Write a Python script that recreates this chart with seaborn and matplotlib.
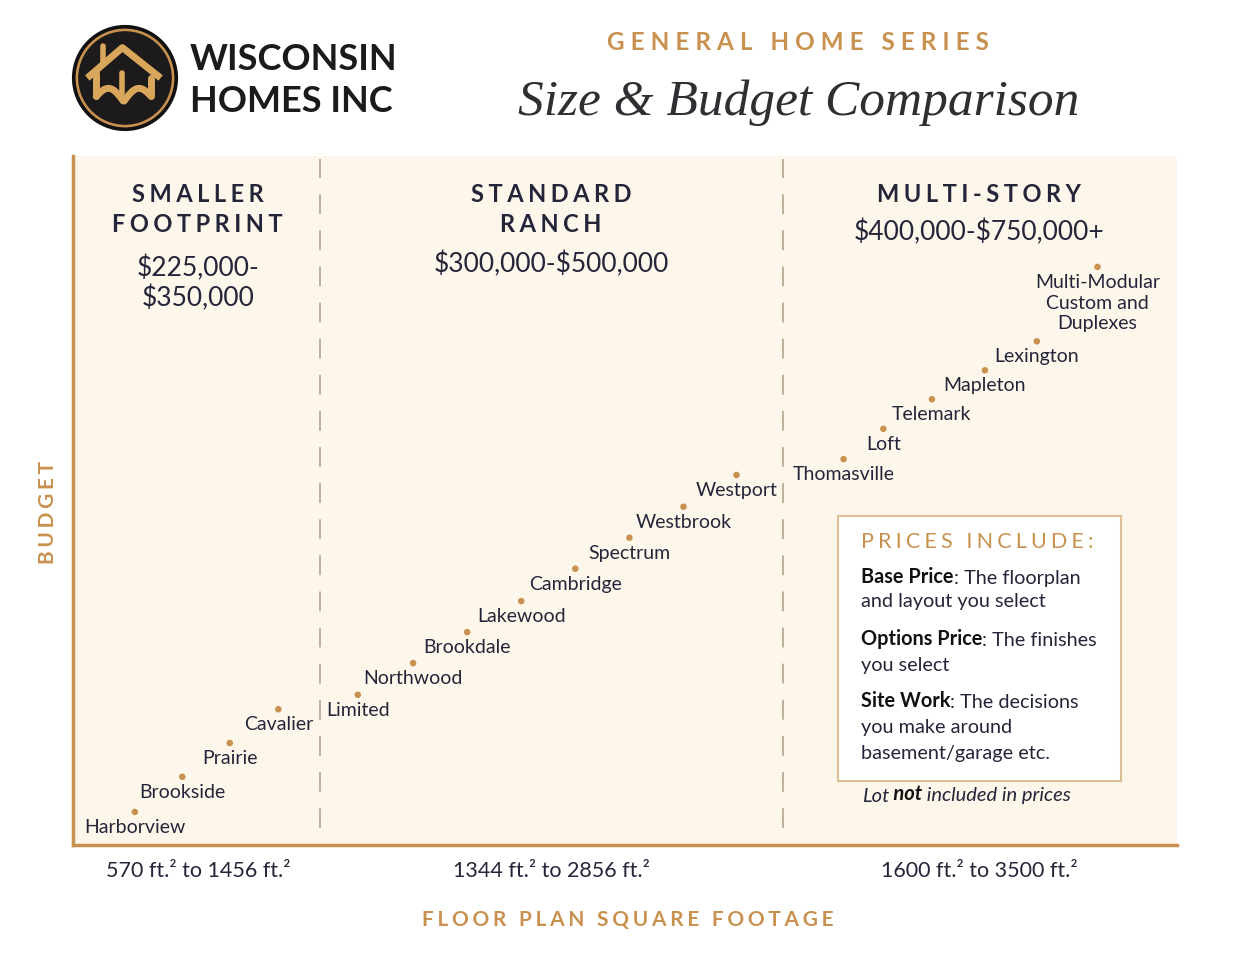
import numpy as np
import pandas as pd
import matplotlib
matplotlib.use("Agg")
import matplotlib.pyplot as plt
import seaborn as sns
from matplotlib.patches import Circle, Rectangle

# ========== Data ==========
homes = ["Harborview", "Brookside", "Prairie", "Cavalier", "Limited", "Northwood",
         "Brookdale", "Lakewood", "Cambridge", "Spectrum", "Westbrook", "Westport",
         "Thomasville", "Loft", "Telemark", "Mapleton", "Lexington",
         "Multi-Modular\nCustom and\nDuplexes"]
# relative square footage / budget (0-100 scale)
size_idx = [5.6, 9.9, 14.2, 18.6, 25.8, 30.8, 35.7, 40.6, 45.5, 50.4, 55.3, 60.1,
            69.8, 73.4, 77.8, 82.6, 87.3, 92.8]
budget_idx = [4.8, 9.9, 14.8, 19.7, 21.8, 26.4, 30.9, 35.4, 40.1, 44.6, 49.1, 53.7,
              56.0, 60.4, 64.7, 68.9, 73.1, 83.9]

section_bounds = [22.4, 64.3]
section_x = [11.3, 43.3, 82.1]
section_names = [["SMALLER", "FOOTPRINT"], ["STANDARD", "RANCH"], ["MULTI-STORY"]]
section_prices = [["$225,000-", "$350,000"], ["$300,000-$500,000"], ["$400,000-$750,000+"]]
section_sizes = ["570 ft.² to 1456 ft.²", "1344 ft.² to 2856 ft.²", "1600 ft.² to 3500 ft.²"]

df = pd.DataFrame({"home": homes, "size": size_idx, "budget": budget_idx})

GOLD = "#c8914f"
CREAM = "#fdf6ea"
INK = "#25253a"
FONT = ["Lato", "DejaVu Sans"]

W, H = 1238, 957
AX_L, AX_R, AX_T, AX_B = 73, 1177, 156, 845


def fx(px):
    return px / W


def fy(py):
    return 1 - py / H


def ay(py):
    # pixel row -> axes data y
    return (AX_B - py) / (AX_B - AX_T) * 100


def track(s, n=1):
    # fake letter spacing with hair spaces
    return ("\u200a" * n).join(s)


def esc(s):
    return s.replace("$", r"\$")


sns.set_theme(style="white")
plt.rcParams["font.family"] = FONT

fig = plt.figure(figsize=(W / 100, H / 100), dpi=100, facecolor="white")
ax = fig.add_axes([fx(AX_L), fy(AX_B), fx(AX_R) - fx(AX_L), fy(AX_T) - fy(AX_B)])
ax.set_facecolor(CREAM)

sns.scatterplot(data=df, x="size", y="budget", ax=ax, color=GOLD, s=22,
                edgecolor="none", zorder=3, legend=False)

ax.set_xlim(0, 100)
ax.set_ylim(0, 100)
ax.set_xticks([])
ax.set_yticks([])
ax.set_xlabel("")
ax.set_ylabel("")
for side in ["top", "right"]:
    ax.spines[side].set_visible(False)
for side in ["left", "bottom"]:
    ax.spines[side].set_color(GOLD)
    ax.spines[side].set_linewidth(2.5)

# section dividers
for b in section_bounds:
    ax.axvline(b, ymin=0.025, ymax=0.995, color="#b8ab95", lw=1.3,
               dashes=(11, 9), zorder=1)

# point labels
for name, x, y in zip(homes, size_idx, budget_idx):
    ax.annotate(name, (x, y), xytext=(0, -7), textcoords="offset pixels",
                ha="center", va="top", fontsize=14, color=INK,
                linespacing=1.27, zorder=4)

# section headings
head_rows = [195, 224]
for x, names, prices, size in zip(section_x, section_names, section_prices, section_sizes):
    for i, line in enumerate(names):
        ax.text(x, ay(head_rows[i]), track(line, 3), ha="center", va="center",
                fontsize=17, fontweight="bold", color=INK)
    p0 = 232 if len(names) == 1 else 264
    if len(prices) == 2:
        p0 = 268
    for i, line in enumerate(prices):
        ax.text(x, ay(p0 + 30 * i), esc(line), ha="center", va="center",
                fontsize=19, color=INK)
    ax.text(x, ay(871), size, ha="center", va="center", fontsize=15.5, color=INK)

# axis titles
fig.text(fx(628), fy(920), track("FLOOR PLAN SQUARE FOOTAGE", 3), ha="center",
         va="center", fontsize=15, fontweight="bold", color=GOLD)
fig.text(fx(48), fy(512), track("BUDGET", 3), ha="center", va="center",
         rotation=90, fontsize=15, fontweight="bold", color=GOLD)

# header
fig.text(fx(798), fy(43), track("GENERAL HOME SERIES", 4), ha="center",
         va="center", fontsize=17.5, fontweight="bold", color=GOLD)
fig.text(fx(799), fy(103), "Size & Budget Comparison", ha="center", va="center",
         fontsize=37, fontstyle="italic", family=["Liberation Serif", "DejaVu Serif"],
         color="#2e2e33")
fig.text(fx(190), fy(60), "WISCONSIN", ha="left", va="center", fontsize=26,
         fontweight="bold", color="#1b1b1b")
fig.text(fx(190), fy(101), "HOMES INC", ha="left", va="center", fontsize=26,
         fontweight="bold", color="#1b1b1b")

# logo
LG = "#d9a75c"
lax = fig.add_axes([fx(70), fy(134), fx(110), fy(0) - fy(112)])
lax.set_xlim(-1.05, 1.05)
lax.set_ylim(-1.05, 1.05)
lax.set_aspect("equal")
lax.axis("off")
lax.add_patch(Circle((0, 0), 1.0, color="#111"))
lax.add_patch(Circle((0, 0), 0.93, color=GOLD))
lax.add_patch(Circle((0, 0), 0.88, color="#1c1a1a"))
lax.plot([-0.72, -0.05, 0.68], [0.0, 0.58, 0.0], color=LG, lw=5,
         solid_capstyle="butt")
lax.plot([-0.42, -0.42], [0.3, 0.62], color=LG, lw=4)
t = np.linspace(0, 1, 60)
wx = -0.55 + 1.05 * t
wy = -0.35 + 0.22 * np.abs(np.sin(2 * np.pi * t)) - 0.1 * np.sin(np.pi * t)
lax.plot(wx, wy, color=LG, lw=5)
lax.plot([-0.55, -0.55], [-0.35, 0.1], color=LG, lw=5)
lax.plot([0.5, 0.5], [-0.35, -0.0], color=LG, lw=5)
lax.plot([-0.05, -0.05], [-0.3, 0.1], color=LG, lw=4)

# prices include box (drawn inside ax so texts stack on top of it)
tf = fig.transFigure
box = Rectangle((fx(838), fy(781)), fx(1121) - fx(838), fy(516) - fy(781),
                transform=tf, facecolor="white", edgecolor="#dcbf94",
                lw=1.5, zorder=5, clip_on=False)
ax.add_patch(box)

ax.text(fx(861), fy(542), track("PRICES INCLUDE:", 3), transform=tf, ha="left",
        va="center", fontsize=15.5, color=GOLD, zorder=6)

rows = [("Base Price", ": The floorplan", 577), (None, "and layout you select", 602),
        ("Options Price", ": The finishes", 639), (None, "you select", 665),
        ("Site Work", ": The decisions", 701), (None, "you make around", 727),
        (None, "basement/garage etc.", 754)]
for bold, rest, py in rows:
    if bold:
        bt = ax.text(fx(861), fy(py), bold, transform=tf, ha="left", va="center",
                     fontsize=14.3, fontweight="bold", color="#111", zorder=6)
        ax.annotate(rest, xy=(1, 0), xycoords=bt, ha="left", va="bottom",
                    fontsize=14.3, color=INK, zorder=6, annotation_clip=False)
    else:
        ax.text(fx(861), fy(py), rest, transform=tf, ha="left", va="center",
                fontsize=14.3, color=INK, zorder=6)

t1 = ax.text(fx(862), fy(796), "Lot", transform=tf, ha="left", va="center",
             fontsize=14.5, fontstyle="italic", color=INK, zorder=6)
t2 = ax.annotate(" not", xy=(1, 0), xycoords=t1, ha="left", va="bottom", fontsize=14.5,
                 fontstyle="italic", fontweight="bold", color="#111",
                 annotation_clip=False, zorder=6)
ax.annotate(" included in prices", xy=(1, 0), xycoords=t2, ha="left", va="bottom",
            fontsize=14.5, fontstyle="italic", color=INK, annotation_clip=False,
            zorder=6)

fig.savefig("out.png", dpi=100, facecolor="white")
